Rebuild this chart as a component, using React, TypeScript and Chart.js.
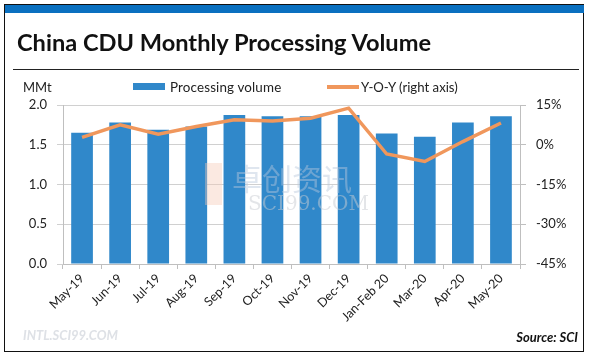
import React, { useEffect, useRef } from "react";
import { Chart, registerables } from "chart.js";

Chart.register(...registerables);

const categories = ["May-19", "Jun-19", "Jul-19", "Aug-19", "Sep-19", "Oct-19", "Nov-19", "Dec-19", "Jan-Feb 20", "Mar-20", "Apr-20", "May-20"];
const volume = [1.65, 1.78, 1.69, 1.73, 1.875, 1.86, 1.86, 1.875, 1.64, 1.6, 1.78, 1.86];
const yoy = [2.8, 7.5, 4.0, 6.9, 9.4, 9.0, 10.0, 13.8, -3.5, -6.3, 1.2, 8.2];
const leftTicks = [0, 0.5, 1.0, 1.5, 2.0];
const rightTicks = [-45, -30, -15, 0, 15];

const BAR = "#3088CA";
const LINE = "#F0975C";
const FONT = "Lato, 'Open Sans', sans-serif";

export default function App() {
  const ref = useRef<HTMLCanvasElement>(null);
  useEffect(() => {
    const ctx = ref.current!;
    const chart = new Chart(ctx, {
      type: "bar",
      data: {
        labels: categories,
        datasets: [
          {
            type: "line",
            label: "Y-O-Y (right axis)",
            data: yoy,
            yAxisID: "y1",
            borderColor: LINE,
            backgroundColor: LINE,
            borderWidth: 3.5,
            pointRadius: 0,
            tension: 0,
            order: 0,
          } as any,
          {
            type: "bar",
            label: "Processing volume",
            data: volume,
            yAxisID: "y",
            backgroundColor: BAR,
            barPercentage: 0.57,
            categoryPercentage: 1,
            order: 1,
          },
        ],
      },
      options: {
        animation: false,
        responsive: false,
        maintainAspectRatio: false,
        layout: { padding: { top: 105, left: 0, right: 0, bottom: 0 } },
        plugins: { legend: { display: false }, tooltip: { enabled: false } },
        scales: {
          x: {
            offset: true,
            grid: { display: true, drawOnChartArea: false, drawTicks: true, tickLength: 5, color: "#BFBFBF", offset: true },
            border: { color: "#BFBFBF" },
            ticks: { minRotation: 45, maxRotation: 45, autoSkip: false, padding: 2, color: "#222", font: { family: FONT, size: 12.5 } },
            afterFit: (s: any) => { s.height = 94; },
          },
          y: {
            position: "left",
            min: 0,
            max: 2,
            afterBuildTicks: (s: any) => { s.ticks = leftTicks.map((v) => ({ value: v })); },
            grid: { color: "#D0D0D0", tickLength: 6, drawTicks: true },
            border: { color: "#BFBFBF" },
            ticks: { padding: 10, color: "#222", font: { family: FONT, size: 13 }, callback: (v: any) => Number(v).toFixed(1) },
            afterFit: (s: any) => { s.width = 63; },
          },
          y1: {
            position: "right",
            min: -45,
            max: 15,
            afterBuildTicks: (s: any) => { s.ticks = rightTicks.map((v) => ({ value: v })); },
            grid: { drawOnChartArea: false, color: "#BFBFBF", tickLength: 6, drawTicks: true },
            border: { color: "#BFBFBF" },
            ticks: { padding: 10, color: "#222", font: { family: FONT, size: 13 }, callback: (v: any) => v + "%" },
            afterFit: (s: any) => { s.width = 70; },
          },
        },
      },
    });
    return () => chart.destroy();
  }, []);

  const abs = (o: any): React.CSSProperties => ({ position: "absolute", ...o });

  return (
    <div style={{ position: "absolute", left: 0, top: 0, width: 590, height: 358, background: "#fff", fontFamily: FONT, overflow: "hidden" }}>
      <canvas ref={ref} width={590} height={358} style={abs({ left: 0, top: 0, width: 590, height: 358 })} />
      {/* frame */}
      <div style={abs({ left: 4, top: 4, width: 580, height: 348, border: "1.5px solid #111", boxSizing: "border-box", pointerEvents: "none" })} />
      <div style={abs({ left: 5, top: 5, width: 579, height: 8, background: "#0A70C0" })} />
      {/* title */}
      <div style={abs({ left: 17, top: 29, fontSize: 23.6, fontWeight: 700, color: "#111", lineHeight: "26px", whiteSpace: "nowrap" })}>
        China CDU Monthly Processing Volume
      </div>
      <div style={abs({ left: 13, top: 69, width: 566, height: 1, background: "#222" })} />
      {/* axis unit */}
      <div style={abs({ left: 23, top: 79, fontSize: 13, color: "#222", lineHeight: "16px" })}>MMt</div>
      {/* legend */}
      <div style={abs({ left: 133, top: 83, width: 32, height: 7, background: BAR })} />
      <div style={abs({ left: 170, top: 79, fontSize: 13.4, color: "#222", lineHeight: "16px", whiteSpace: "nowrap", letterSpacing: 0.15 })}>Processing volume</div>
      <div style={abs({ left: 327, top: 85, width: 32, height: 3.5, background: LINE })} />
      <div style={abs({ left: 361, top: 79, fontSize: 13.2, color: "#222", lineHeight: "16px", whiteSpace: "nowrap" })}>Y-O-Y (right axis)</div>
      {/* watermark */}
      <div style={abs({ left: 205, top: 163, width: 17, height: 42, background: "#F6C9B5", opacity: 0.4 })} />
      <div style={abs({ left: 232, top: 160, fontSize: 30, color: "#B8C8DC", opacity: 0.45, fontFamily: "'Noto Sans CJK SC', sans-serif", lineHeight: "34px", whiteSpace: "nowrap" })}>
        卓创资讯
      </div>
      <div style={abs({ left: 248, top: 192, fontSize: 20, color: "#C8CCD2", opacity: 0.5, fontFamily: "'DejaVu Serif', serif", lineHeight: "22px", whiteSpace: "nowrap" })}>
        SCI99.COM
      </div>
      <div style={abs({ left: 23, top: 328, fontSize: 13, fontStyle: "italic", fontWeight: 700, color: "#DEE1E6", lineHeight: "14px", whiteSpace: "nowrap" })}>
        INTL.SCI99.COM
      </div>
      {/* source */}
      <div style={abs({ right: 12, top: 329, fontSize: 13, fontStyle: "italic", fontWeight: 700, color: "#111", lineHeight: "16px", whiteSpace: "nowrap" })}>
        Source: SCI
      </div>
    </div>
  );
}
